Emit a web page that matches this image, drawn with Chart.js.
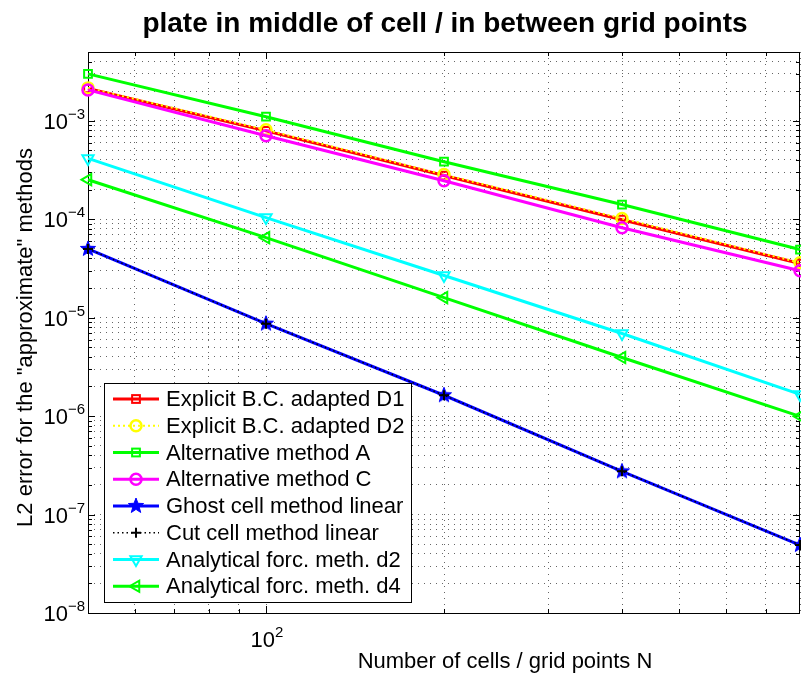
<!DOCTYPE html>
<html lang="en">
<head>
<meta charset="UTF-8">
<title>plate in middle of cell / in between grid points</title>
<script src="https://cdn.jsdelivr.net/npm/chart.js"></script>
<style>
  html, body { margin: 0; padding: 0; background: #fff; }
  #errorChart { display: block; }
</style>
</head>
<body>
<canvas id="errorChart" width="801" height="678"></canvas>
<script>
// number of cells / grid points
const nCells = [50, 100, 200, 400, 800];

// L2 errors
const explicitD1 = [2.13e-3, 7.9e-4, 2.78e-4, 9.9e-5, 3.55e-5];
const explicitD2 = [2.16e-3, 8.1e-4, 2.84e-4, 1.02e-4, 3.62e-5];
const altMethodA = [3.0e-3, 1.10e-3, 3.84e-4, 1.41e-4, 4.92e-5];
const altMethodC = [2.06e-3, 7.05e-4, 2.46e-4, 8.2e-5, 3.0e-5];
const ghostLinear = [5.0e-5, 8.7e-6, 1.63e-6, 2.75e-7, 4.9e-8];
const cutLinear = [5.0e-5, 8.7e-6, 1.63e-6, 2.75e-7, 4.9e-8];
const analyticD2 = [4.15e-4, 1.04e-4, 2.68e-5, 6.9e-6, 1.66e-6];
const analyticD4 = [2.52e-4, 6.5e-5, 1.6e-5, 3.94e-6, 9.95e-7];

const seriesNames = [
    'Explicit B.C. adapted D1',
    'Explicit B.C. adapted D2',
    'Alternative method A',
    'Alternative method C',
    'Ghost cell method linear',
    'Cut cell method linear',
    'Analytical forc. meth. d2',
    'Analytical forc. meth. d4'
];

// axis ticks
const xTicks = [50, 60, 70, 80, 90, 100, 200, 300, 400, 500, 600, 700, 800];
const xLabelTicks = [100];
const xLabelExps = ['2'];
const yDecades = [1e-8, 1e-7, 1e-6, 1e-5, 1e-4, 1e-3];
const yDecadeExps = ['\u22128', '\u22127', '\u22126', '\u22125', '\u22124', '\u22123'];
const yMinorSteps = [2, 3, 4, 5, 6, 7, 8, 9];
const yMin = 1e-8, yMax = 5e-3;

const titleText = 'plate in middle of cell / in between grid points';
const xTitleText = 'Number of cells / grid points N';
const yTitleText = 'L2 error for the "approximate" methods';

const FONT = '"Liberation Sans", Arial, Helvetica, sans-serif';

let yTicks = [];
yDecades.forEach(d => {
    yTicks.push(d);
    yMinorSteps.forEach(s => { if (d * s <= yMax * 1.0001) yTicks.push(d * s); });
});

// filled pentagram marker for the ghost cell series
function makeStar(color, R) {
    const c = document.createElement('canvas');
    const size = Math.ceil(R * 2 + 4);
    c.width = size; c.height = size;
    const g = c.getContext('2d');
    const cx = size / 2, cy = size / 2, r = R * 0.42;
    g.beginPath();
    for (let i = 0; i < 10; i++) {
        const rad = i % 2 === 0 ? R : r;
        const a = -Math.PI / 2 + i * Math.PI / 5;
        g.lineTo(cx + rad * Math.cos(a), cy + rad * Math.sin(a));
    }
    g.closePath();
    g.fillStyle = color;
    g.fill();
    g.lineWidth = 1;
    g.strokeStyle = color;
    g.stroke();
    return c;
}
const starMarker = makeStar('#0000ff', 8);

const open = 'rgba(0,0,0,0)';
const datasets = [
    { label: seriesNames[0], data: explicitD1, borderColor: '#ff0000', borderWidth: 3,
      pointStyle: 'rect', pointRadius: 5.5, pointBorderWidth: 2, pointBorderColor: '#ff0000', pointBackgroundColor: open },
    { label: seriesNames[1], data: explicitD2, borderColor: '#ffff00', borderWidth: 2, borderDash: [2, 3],
      pointStyle: 'circle', pointRadius: 5.5, pointBorderWidth: 2.5, pointBorderColor: '#ffff00', pointBackgroundColor: open },
    { label: seriesNames[2], data: altMethodA, borderColor: '#00ff00', borderWidth: 3,
      pointStyle: 'rect', pointRadius: 5.5, pointBorderWidth: 2, pointBorderColor: '#00ff00', pointBackgroundColor: open },
    { label: seriesNames[3], data: altMethodC, borderColor: '#ff00ff', borderWidth: 3,
      pointStyle: 'circle', pointRadius: 5.5, pointBorderWidth: 2.5, pointBorderColor: '#ff00ff', pointBackgroundColor: open },
    { label: seriesNames[4], data: ghostLinear, borderColor: '#0000ff', borderWidth: 3,
      pointStyle: starMarker, pointRadius: 8, pointBorderWidth: 1, pointBorderColor: '#0000ff', pointBackgroundColor: '#0000ff' },
    { label: seriesNames[5], data: cutLinear, borderColor: '#000000', borderWidth: 1.5, borderDash: [1.5, 3],
      pointStyle: 'cross', pointRadius: 5, pointBorderWidth: 2, pointBorderColor: '#000000', pointBackgroundColor: open },
    { label: seriesNames[6], data: analyticD2, borderColor: '#00ffff', borderWidth: 3,
      pointStyle: 'triangle', rotation: 180, pointRadius: 6.5, pointBorderWidth: 2, pointBorderColor: '#00ffff', pointBackgroundColor: open },
    { label: seriesNames[7], data: analyticD4, borderColor: '#00ff00', borderWidth: 3,
      pointStyle: 'triangle', rotation: 270, pointRadius: 6.5, pointBorderWidth: 2, pointBorderColor: '#00ff00', pointBackgroundColor: open }
];
// later series on top, like the original plot
datasets.forEach((ds, i) => {
    ds.order = 20 - i;
    ds.fill = false;
    ds.tension = 0;
    ds.clip = false;
    ds.pointHoverRadius = ds.pointRadius;
});

function drawMarker(ctx, ds, x, y) {
    const st = ds.pointStyle, r = ds.pointRadius;
    ctx.save();
    ctx.setLineDash([]);
    ctx.lineWidth = ds.pointBorderWidth;
    ctx.strokeStyle = ds.pointBorderColor;
    ctx.fillStyle = ds.pointBackgroundColor;
    if (st instanceof HTMLCanvasElement) {
        ctx.drawImage(st, x - st.width / 2, y - st.height / 2);
    } else if (st === 'rect') {
        const s = r * Math.SQRT1_2;
        ctx.strokeRect(x - s, y - s, 2 * s, 2 * s);
    } else if (st === 'circle') {
        ctx.beginPath(); ctx.arc(x, y, r, 0, Math.PI * 2); ctx.stroke();
    } else if (st === 'cross') {
        ctx.beginPath();
        ctx.moveTo(x - r, y); ctx.lineTo(x + r, y);
        ctx.moveTo(x, y - r); ctx.lineTo(x, y + r);
        ctx.stroke();
    } else if (st === 'triangle') {
        let rad = (ds.rotation || 0) * Math.PI / 180;
        ctx.beginPath();
        for (let k = 0; k < 3; k++) {
            ctx.lineTo(x + Math.sin(rad) * r, y - Math.cos(rad) * r);
            rad += 2 * Math.PI / 3;
        }
        ctx.closePath(); ctx.stroke();
    }
    ctx.restore();
}

function drawPower(ctx, base, exp, x, y, align) {
    ctx.font = '22px ' + FONT;
    const wb = ctx.measureText(base).width;
    ctx.font = '15px ' + FONT;
    const we = ctx.measureText(exp).width;
    let left = align === 'right' ? x - wb - we : x - (wb + we) / 2;
    ctx.textAlign = 'left';
    ctx.textBaseline = 'alphabetic';
    ctx.font = '22px ' + FONT;
    ctx.fillText(base, left, y + 8);
    ctx.font = '15px ' + FONT;
    ctx.fillText(exp, left + wb, y - 2);
}

const matlabFrame = {
    id: 'matlabFrame',
    beforeDatasetsDraw(chart) {
        const { ctx, chartArea: a, scales } = chart;
        ctx.save();
        ctx.strokeStyle = '#000';
        ctx.lineWidth = 1;
        ctx.setLineDash([]);
        ctx.beginPath();
        // inner ticks on all four sides
        xTicks.forEach(v => {
            if (v <= xTicks[0] || v >= xTicks[xTicks.length - 1]) return;
            const px = Math.round(scales.x.getPixelForValue(v)) + 0.5;
            const len = xLabelTicks.includes(v) ? 7 : 4;
            ctx.moveTo(px, a.bottom); ctx.lineTo(px, a.bottom - len);
            ctx.moveTo(px, a.top); ctx.lineTo(px, a.top + len);
        });
        yTicks.forEach(v => {
            const py = Math.round(scales.y.getPixelForValue(v)) + 0.5;
            const len = yDecades.includes(v) ? 7 : 4;
            ctx.moveTo(a.left, py); ctx.lineTo(a.left + len, py);
            ctx.moveTo(a.right, py); ctx.lineTo(a.right - len, py);
        });
        ctx.stroke();
        ctx.strokeRect(Math.round(a.left) + 0.5, Math.round(a.top) + 0.5,
            Math.round(a.right - a.left) - 1, Math.round(a.bottom - a.top));
        ctx.restore();
    },
    afterDraw(chart) {
        const { ctx, chartArea: a, scales } = chart;
        ctx.save();
        ctx.fillStyle = '#000';
        // tick labels
        yDecades.forEach((v, i) => {
            drawPower(ctx, '10', yDecadeExps[i], a.left - 3, scales.y.getPixelForValue(v), 'right');
        });
        xLabelTicks.forEach((v, i) => {
            drawPower(ctx, '10', xLabelExps[i], scales.x.getPixelForValue(v) + 1, a.bottom + 26, 'center');
        });
        // titles
        ctx.textAlign = 'center';
        ctx.textBaseline = 'alphabetic';
        ctx.font = 'bold 28px ' + FONT;
        ctx.fillText(titleText, (a.left + a.right) / 2 + 1, 32);
        ctx.font = '22px ' + FONT;
        ctx.fillText(xTitleText, 505, 668);
        ctx.save();
        ctx.translate(32, (a.top + a.bottom) / 2 + 5);
        ctx.rotate(-Math.PI / 2);
        ctx.fillText(yTitleText, 0, 0);
        ctx.restore();

        // legend box, lower left inside the axes
        const bx = a.left + 16, by = 383, bw = 307, bh = 219;
        ctx.fillStyle = '#fff';
        ctx.fillRect(bx, by, bw, bh);
        ctx.strokeStyle = '#000';
        ctx.lineWidth = 1;
        ctx.strokeRect(bx + 0.5, by + 0.5, bw, bh);
        ctx.font = '22px ' + FONT;
        ctx.textAlign = 'left';
        ctx.textBaseline = 'middle';
        chart.data.datasets.forEach((ds, i) => {
            const ry = by + 16 + i * 26.75;
            ctx.save();
            ctx.strokeStyle = ds.borderColor;
            ctx.lineWidth = ds.borderWidth;
            ctx.setLineDash(ds.borderDash || []);
            ctx.beginPath();
            ctx.moveTo(bx + 9, ry); ctx.lineTo(bx + 55, ry);
            ctx.stroke();
            ctx.restore();
            drawMarker(ctx, ds, bx + 32, ry);
            ctx.fillStyle = '#000';
            ctx.fillText(ds.label, bx + 62, ry + 1);
        });
        ctx.restore();
    }
};

const setTicks = list => scale => { scale.ticks = list.map(v => ({ value: v })); };

new Chart(document.getElementById('errorChart'), {
    type: 'line',
    data: { labels: nCells, datasets: datasets.map(ds => Object.assign({}, ds, {
        data: ds.data.map((v, k) => ({ x: nCells[k], y: v }))
    })) },
    options: {
        responsive: false,
        animation: false,
        devicePixelRatio: 1,
        events: [],
        layout: { autoPadding: false, padding: { left: 88, right: 1, top: 52, bottom: 65 } },
        plugins: { legend: { display: false }, tooltip: { enabled: false }, title: { display: false } },
        scales: {
            x: {
                type: 'logarithmic', min: 50, max: 800,
                afterBuildTicks: setTicks(xTicks),
                ticks: { display: false },
                grid: { color: 'rgba(0,0,0,0.6)', lineWidth: 1, drawTicks: false },
                border: { display: false, dash: [1, 5] }
            },
            y: {
                type: 'logarithmic', min: yMin, max: yMax,
                afterBuildTicks: setTicks(yTicks),
                ticks: { display: false },
                grid: { color: 'rgba(0,0,0,0.6)', lineWidth: 1, drawTicks: false },
                border: { display: false, dash: [1, 5] }
            }
        }
    },
    plugins: [matlabFrame]
});
</script>
</body>
</html>
